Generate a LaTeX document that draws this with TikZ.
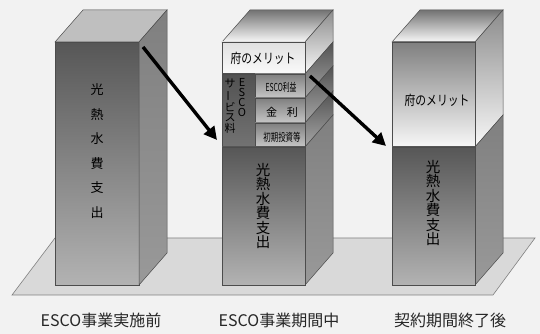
\documentclass[tikz,border=0pt]{standalone}
\usepackage{fontspec}
\setmainfont{Noto Sans CJK JP}
\usetikzlibrary{arrows.meta}
\begin{document}
\begin{tikzpicture}[x=1pt,y=1pt,
  edge/.style={draw=black!70, line width=0.5pt},
  frontdark/.style={edge, top color=black!66, bottom color=black!30},
  sidedark/.style={edge, top color=black!50, bottom color=black!40},
  topgrad/.style={edge, top color=black!55, bottom color=black!3},
  bandlight/.style={edge, top color=black!45, bottom color=black!3},
  subbox/.style={edge, top color=black!50, bottom color=black!22},
  subside/.style={edge, top color=black!68, bottom color=black!35},
  escocol/.style={edge, top color=black!68, bottom color=black!55},
  bigarrow/.style={line width=3.4pt, -{Triangle[length=13pt 0, width=13pt 0]}},
  caption/.style={font=\fontsize{16}{16}\selectfont, text=black!85},
  vtext/.style={align=center, inner sep=0pt},
  small/.style={inner sep=0pt, font=\fontsize{11}{11}\selectfont}
]
\useasboundingbox (0,0) rectangle (540,334);
\fill[black!5] (0,0) rectangle (540,334);
% floor
\filldraw[fill=black!15, draw=black!50, line width=0.6pt] (12,39) -- (493,39) -- (535,96) -- (55,96) -- cycle;

% ---------- bar 1 ----------
\shade[frontdark] (55,49) rectangle (139,292);
\filldraw[edge, fill=black!25] (55,292) -- (83,324) -- (167,324) -- (139,292) -- cycle;
\shade[sidedark] (139,292) -- (167,324) -- (167,81) -- (139,49) -- cycle;
\node[vtext, font=\fontsize{13}{24.5}\selectfont] (b1text) at (97,183) {光\\熱\\水\\費\\支\\出};

% ---------- bar 2 ----------
\shade[topgrad] (222,292) -- (250,324) -- (333,324) -- (305,292) -- cycle;
\shade[bandlight] (305,292) -- (333,324) -- (333,292) -- (305,260) -- cycle;
\shade[subside] (305,260) -- (333,292) -- (333,268) -- (305,236) -- cycle;
\shade[subside] (305,236) -- (333,268) -- (333,243) -- (305,211) -- cycle;
\shade[subside] (305,211) -- (333,243) -- (333,219) -- (305,187) -- cycle;
\shade[sidedark] (305,187) -- (333,219) -- (333,81) -- (305,49) -- cycle;
\shade[edge, top color=black!12, bottom color=black!2] (222,260) rectangle (305,292);
\shade[escocol] (222,187) rectangle (255,260);
\shade[subbox] (255,236) rectangle (305,260);
\shade[subbox] (255,211) rectangle (305,236);
\shade[subbox] (255,187) rectangle (305,211);
\shade[frontdark] (222,49) rectangle (305,187);
\node[inner sep=0pt] (b2merit) at (263,276) {\scalebox{0.8}[1]{\fontsize{13.5}{13.5}\selectfont 府のメリット}};
\node[vtext, font=\fontsize{11}{10.3}\selectfont] (esco) at (242,236.5) {E\\S\\C\\O};
\node[vtext, font=\fontsize{11}{10.7}\selectfont] (svc) at (230,228) {サ\\\rotatebox[origin=c]{90}{ー}\\ビ\\ス\\料};
\node[small] (profit) at (281,247) {\scalebox{0.62}[1]{ESCO利益}};
\node[small] (kinri) at (282,222) {金\hspace{0.9em}利};
\node[small] (shoki) at (282,197) {\scalebox{0.68}[1]{初期投資等}};
\node[vtext, font=\fontsize{14.5}{13}\selectfont] (b2text) at (263,128) {光\\熱\\水\\費\\支\\出};

% ---------- bar 3 ----------
\shade[topgrad] (392,292) -- (420,324) -- (503,324) -- (475,292) -- cycle;
\shade[bandlight] (475,292) -- (503,324) -- (503,219) -- (475,187) -- cycle;
\shade[sidedark] (475,187) -- (503,219) -- (503,81) -- (475,49) -- cycle;
\shade[edge, top color=black!50, bottom color=black!3] (392,187) rectangle (475,292);
\shade[frontdark] (392,49) rectangle (475,187);
\node[inner sep=0pt] (b3merit) at (437,234) {\scalebox{0.8}[1]{\fontsize{13.5}{13.5}\selectfont 府のメリット}};
\node[vtext, font=\fontsize{14.5}{13}\selectfont] (b3text) at (433,131) {光\\熱\\水\\費\\支\\出};

% ---------- arrows ----------
\coordinate (a1s) at (143,287);
\coordinate (a1e) at (217,194);
\coordinate (a2s) at (310,258);
\coordinate (a2e) at (386,188);
\draw[bigarrow] (a1s) -- (a1e);
\draw[bigarrow] (a2s) -- (a2e);

% ---------- captions ----------
\node[caption] (cap1) at (101,14) {ESCO事業実施前};
\node[caption] (cap2) at (279,14) {ESCO事業期間中};
\node[caption] (cap3) at (450,14) {契約期間終了後};
\end{tikzpicture}
\end{document}
